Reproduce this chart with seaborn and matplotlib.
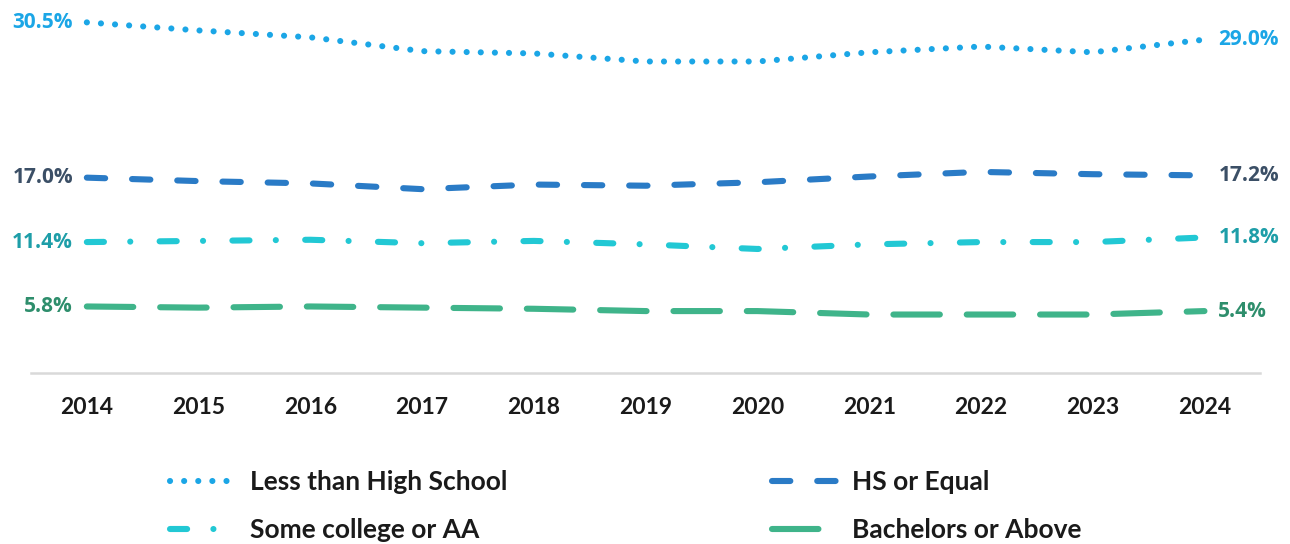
import matplotlib
matplotlib.use("Agg")
import matplotlib.pyplot as plt
import seaborn as sns
import pandas as pd

years = ["2014", "2015", "2016", "2017", "2018", "2019", "2020", "2021", "2022", "2023", "2024"]
less_than_hs = [30.5, 29.8, 29.2, 28.0, 27.8, 27.1, 27.1, 27.9, 28.4, 27.9, 29.0]
hs_or_equal = [17.0, 16.7, 16.5, 16.0, 16.4, 16.3, 16.6, 17.1, 17.5, 17.3, 17.2]
some_college = [11.4, 11.5, 11.6, 11.3, 11.5, 11.2, 10.8, 11.2, 11.4, 11.4, 11.8]
bachelors = [5.8, 5.7, 5.8, 5.7, 5.6, 5.4, 5.4, 5.1, 5.1, 5.1, 5.4]

series_names = ["Less than High School", "HS or Equal", "Some college or AA", "Bachelors or Above"]
series_values = [less_than_hs, hs_or_equal, some_college, bachelors]
colors = ["#1BA6E6", "#2A7BC6", "#22C8D4", "#3FB48A"]
label_colors = ["#1BA6E6", "#3B4F66", "#1E9EA8", "#2E8E6C"]
dash_styles = [(0.01, 2.3), (3.0, 4.4), (2.8, 4.3, 0.01, 4.8), (7.6, 4.4)]

rows = []
for name, vals in zip(series_names, series_values):
    for y, v in zip(years, vals):
        rows.append({"Year": y, "Value": v, "Series": name})
df = pd.DataFrame(rows)

sns.set_theme(style="white")
plt.rcParams["font.family"] = ["Lato", "DejaVu Sans"]

fig = plt.figure(figsize=(12.9, 5.44), dpi=100)
ax = fig.add_axes([0.024, 0.314, 0.953, 0.666])

sns.lineplot(
    data=df, x="Year", y="Value", hue="Series", style="Series",
    hue_order=series_names, style_order=series_names,
    palette=dict(zip(series_names, colors)),
    dashes=dict(zip(series_names, dash_styles)),
    linewidth=4.4, dash_capstyle="round", solid_capstyle="round",
    legend=False, ax=ax, sort=False,
)

ax.set_xlim(-0.5, 10.5)
ax.set_ylim(0, 31.5)
ax.set_xlabel("")
ax.set_ylabel("")
ax.set_yticks([])
for s in ["top", "left", "right"]:
    ax.spines[s].set_visible(False)
ax.spines["bottom"].set_color("#D9D9D9")
ax.spines["bottom"].set_linewidth(1.8)
ax.tick_params(axis="x", length=0, pad=17, labelsize=16.5)
for lab in ax.get_xticklabels():
    lab.set_fontweight("bold")
    lab.set_color("#1a1a1a")

for vals, lc in zip(series_values, label_colors):
    ax.annotate(f"{vals[0]:.1f}%", xy=(0, vals[0]), xytext=(-10, 0),
                textcoords="offset points", ha="right", va="center",
                fontsize=15, fontweight="bold", color=lc,
                family=["Open Sans", "DejaVu Sans"])
    ax.annotate(f"{vals[-1]:.1f}%", xy=(len(years) - 1, vals[-1]), xytext=(10, 0),
                textcoords="offset points", ha="left", va="center",
                fontsize=15, fontweight="bold", color=lc,
                family=["Open Sans", "DejaVu Sans"])

lines = ax.get_lines()[:4]
handles = [lines[0], lines[2], lines[1], lines[3]]
labels = [series_names[0], series_names[2], series_names[1], series_names[3]]
leg = fig.legend(handles, labels, ncol=2, loc="center", bbox_to_anchor=(0.485, 0.07),
                 frameon=False, handlelength=2.5, handletextpad=0.55,
                 columnspacing=10.0, labelspacing=0.9,
                 prop={"family": ["Lato", "DejaVu Sans"], "weight": "bold", "size": 19})
for t in leg.get_texts():
    t.set_color("#1a1a1a")

fig.savefig("out.png", dpi=100, facecolor="white")
